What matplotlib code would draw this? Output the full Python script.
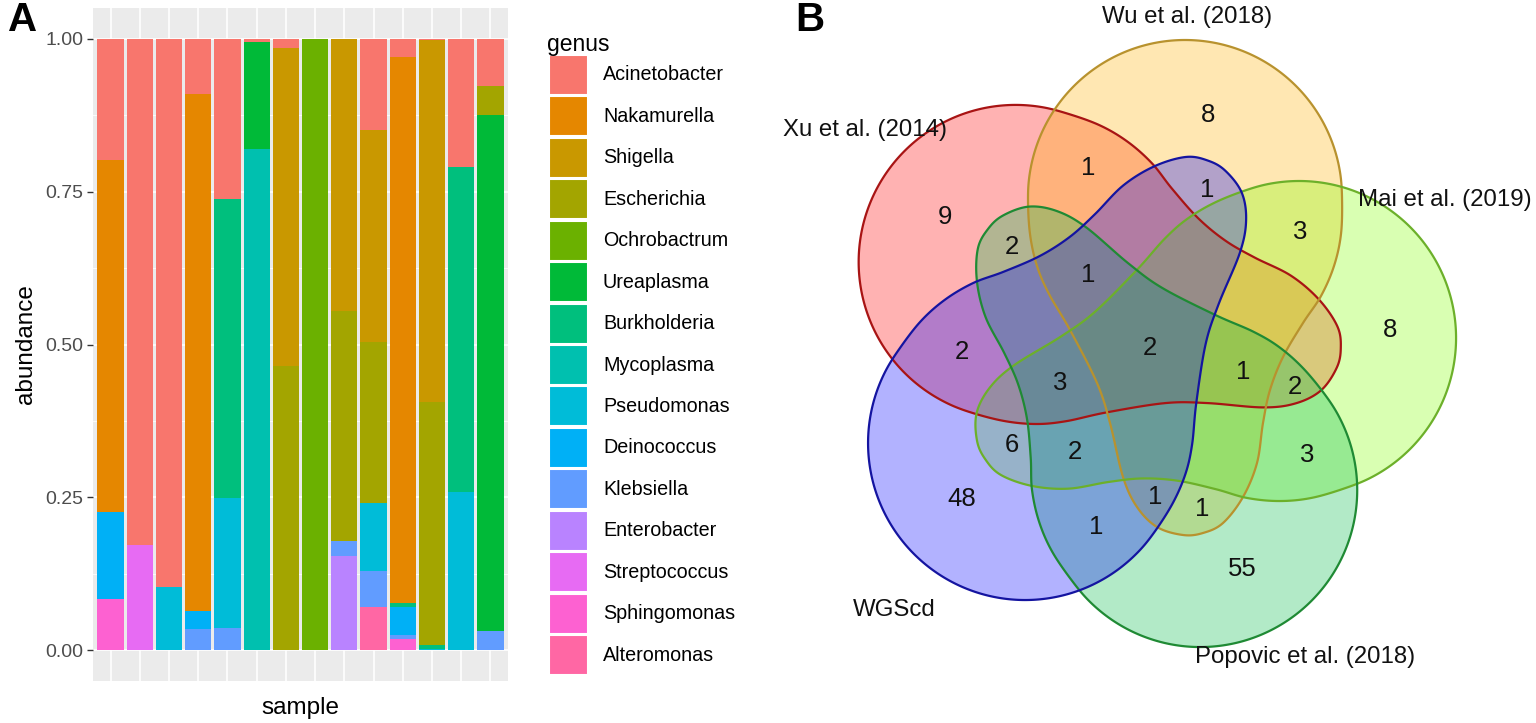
import numpy as np
import matplotlib
matplotlib.use("Agg")
from matplotlib import pyplot as plt
from matplotlib.patches import Polygon, Rectangle

plt.rcParams['font.family'] = ['Liberation Sans', 'DejaVu Sans']

W, H = 1536, 723

# ---------------- panel A data ----------------
genera = ['Acinetobacter', 'Nakamurella', 'Shigella', 'Escherichia', 'Ochrobactrum',
          'Ureaplasma', 'Burkholderia', 'Mycoplasma', 'Pseudomonas', 'Deinococcus',
          'Klebsiella', 'Enterobacter', 'Streptococcus', 'Sphingomonas', 'Alteromonas']
genus_colors = ['#F8766D', '#E58700', '#C99800', '#A3A500', '#6BB100', '#00BA38', '#00BF7D',
                '#00C0AF', '#00BCD8', '#00B0F6', '#619CFF', '#B983FF', '#E76BF3', '#FD61D1',
                '#FF67A4']
samples = np.arange(1, 15)

acinetobacter = [0.199, 0.827, 0.896, 0.091, 0.263, 0.005, 0.016, 0, 0, 0.149, 0.030, 0.003, 0.210, 0.078]
nakamurella   = [0.575, 0, 0, 0.844, 0, 0, 0, 0, 0, 0, 0.892, 0, 0, 0]
shigella      = [0, 0, 0, 0, 0, 0, 0.519, 0, 0.445, 0.347, 0, 0.591, 0, 0]
escherichia   = [0, 0, 0, 0, 0, 0, 0.465, 0, 0.376, 0.263, 0, 0.397, 0, 0.047]
ochrobactrum  = [0, 0, 0, 0, 0, 0, 0, 1.0, 0, 0, 0, 0, 0, 0]
ureaplasma    = [0, 0, 0, 0, 0, 0.175, 0, 0, 0, 0, 0, 0, 0, 0.843]
burkholderia  = [0, 0, 0, 0, 0.488, 0, 0, 0, 0, 0, 0.007, 0.006, 0.531, 0]
mycoplasma    = [0, 0, 0, 0, 0, 0.820, 0, 0, 0, 0, 0, 0, 0, 0]
pseudomonas   = [0, 0, 0.104, 0, 0.212, 0, 0, 0, 0, 0.112, 0, 0.003, 0.259, 0]
deinococcus   = [0.142, 0, 0, 0.030, 0, 0, 0, 0, 0, 0, 0.045, 0, 0, 0]
klebsiella    = [0, 0, 0, 0.035, 0.037, 0, 0, 0, 0.024, 0.058, 0.008, 0, 0, 0.032]
enterobacter  = [0, 0, 0, 0, 0, 0, 0, 0, 0.155, 0, 0, 0, 0, 0]
streptococcus = [0, 0.173, 0, 0, 0, 0, 0, 0, 0, 0, 0, 0, 0, 0]
sphingomonas  = [0.084, 0, 0, 0, 0, 0, 0, 0, 0, 0, 0.018, 0, 0, 0]
alteromonas   = [0, 0, 0, 0, 0, 0, 0, 0, 0, 0.071, 0, 0, 0, 0]

abundance = [acinetobacter, nakamurella, shigella, escherichia, ochrobactrum, ureaplasma,
             burkholderia, mycoplasma, pseudomonas, deinococcus, klebsiella, enterobacter,
             streptococcus, sphingomonas, alteromonas]

# ---------------- panel B data ----------------
set_names = ['Wu et al. (2018)', 'Mai et al. (2019)', 'Popovic et al. (2018)', 'WGScd', 'Xu et al. (2014)']
region_counts = [8, 9, 1, 1, 3, 8, 2, 1, 2, 2, 3, 1, 2, 6, 2, 3, 48, 1, 1, 1, 55]

# layout (pixel positions in the picture)
count_pos = [(1208, 115), (945, 217), (1088, 168), (1207, 190), (1300, 232), (1390, 330),
             (1012, 247), (1088, 275), (962, 352), (1150, 348), (1060, 383), (1243, 372),
             (1295, 387), (1012, 445), (1075, 452), (1307, 455), (962, 499), (1155, 497),
             (1202, 509), (1096, 527), (1242, 569)]
label_pos = [(1187, 17, 'center'), (1358, 200, 'left'), (1195, 657, 'left'),
             (853, 610, 'left'), (783, 130, 'left')]
set_fill = ['#FFB200', '#84FF00', '#00BC48', '#0000FF', '#FF0000']
set_edge = ['#B8922E', '#6CB02A', '#1F8A34', '#1414A0', '#A81414']
set_rot = [0, 72, 144, 216, 288]
center = np.array([1145.0, 346.0])

# one petal (relative to the centre, image coords): round lobe + bent tail,
# the other four sets are rotations of it
lobe_c = np.array([40.0, -149.0])
lobe_r = 157.0
tail = np.array([(-115, -112), (-108, -80), (-96, -52), (-75, -16), (-48, 37), (-35, 77),
                 (-22, 131), (-8, 161), (12, 181), (38, 189), (58, 187), (78, 177),
                 (98, 151), (112, 117), (118, 77), (125, 44), (138, 11), (158, -23),
                 (176, -50), (189, -80), (196, -112)], float)


def smooth_closed(pts, n=12):
    out = []
    m = len(pts)
    t = np.linspace(0, 1, n, endpoint=False)[:, None]
    for i in range(m):
        p0, p1, p2, p3 = pts[i - 1], pts[i], pts[(i + 1) % m], pts[(i + 2) % m]
        out.append(0.5 * (2 * p1 + (-p0 + p2) * t + (2 * p0 - 5 * p1 + 4 * p2 - p3) * t ** 2
                          + (-p0 + 3 * p1 - 3 * p2 + p3) * t ** 3))
    return np.vstack(out)


def rotate(pts, deg):
    a = np.radians(deg)
    R = np.array([[np.cos(a), -np.sin(a)], [np.sin(a), np.cos(a)]])
    return pts @ R.T


phi = np.radians(np.arange(0, -181, -10))
arc = lobe_c + lobe_r * np.column_stack([np.cos(phi), np.sin(phi)])
shape = smooth_closed(np.vstack([arc, tail]))

fig = plt.figure(figsize=(W / 100, H / 100), dpi=100)

# ---------------- panel A ----------------
ax = fig.add_axes([93 / W, (H - 681) / H, 415 / W, 673 / H])
ax.set_facecolor('#EBEBEB')
bottom = np.zeros(len(samples))
for name, col, vals in list(zip(genera, genus_colors, abundance))[::-1]:
    vals = np.array(vals)
    ax.bar(samples, vals, bottom=bottom, width=0.9, color=col, linewidth=0, zorder=3)
    bottom += vals
ax.set_xlim(0.4, 14.6)
ax.set_ylim(-0.05, 1.05)
ax.set_yticks([0, 0.25, 0.5, 0.75, 1.0])
ax.set_yticklabels(['0.00', '0.25', '0.50', '0.75', '1.00'])
ax.set_yticks([0.125, 0.375, 0.625, 0.875], minor=True)
ax.set_xticks(samples)
ax.set_xticklabels([])
ax.tick_params(axis='x', length=0)
ax.tick_params(axis='y', which='major', length=4, width=1, color='#333333', labelsize=14,
               labelcolor='#4D4D4D', pad=3)
ax.tick_params(axis='y', which='minor', length=0)
ax.grid(True, which='major', color='white', lw=1.2, zorder=0)
ax.grid(True, which='minor', axis='y', color='white', lw=0.6, zorder=0)
for s in ax.spines.values():
    s.set_visible(False)
ax.set_xlabel('sample', fontsize=17.5, labelpad=8)
ax.set_ylabel('abundance', fontsize=17.5, labelpad=6)

# overlay in pixel coords for legend and panel letters
ov = fig.add_axes([0, 0, 1, 1], facecolor='none')
ov.set_xlim(0, W)
ov.set_ylim(H, 0)
ov.axis('off')
ov.text(8, 20, 'A', fontsize=29, fontweight='bold', va='center', ha='left')
ov.text(795, 20, 'B', fontsize=29, fontweight='bold', va='center', ha='left')
ov.text(547, 45, 'genus', fontsize=16.5, va='center', ha='left')
for i, (name, col) in enumerate(zip(genera, genus_colors)):
    yc = 75 + i * 41.43
    ov.add_patch(Rectangle((549, yc - 20), 39, 40, facecolor=col, edgecolor='white', lw=1.5))
    ov.text(603, yc, name, fontsize=14.2, va='center', ha='left')

# ---------------- panel B ----------------
vx = fig.add_axes([760 / W, 0, 776 / W, 1], facecolor='none')
vx.set_xlim(760, 1536)
vx.set_ylim(H, 0)
vx.axis('off')
outlines = [rotate(shape, r) + center for r in set_rot]
for k in [4, 0, 1, 2, 3]:
    vx.add_patch(Polygon(outlines[k], closed=True, facecolor=set_fill[k], alpha=0.3,
                         edgecolor='none'))
for k in [4, 0, 1, 2, 3]:
    vx.add_patch(Polygon(outlines[k], closed=True, facecolor='none', edgecolor=set_edge[k],
                         lw=1.6))
for (x, y), c in zip(count_pos, region_counts):
    vx.text(x, y, str(c), fontsize=18.5, ha='center', va='center', color='#111111')
for name, (x, y, ha) in zip(set_names, label_pos):
    vx.text(x, y, name, fontsize=17.3, ha=ha, va='center', color='#111111')

fig.savefig('out.png', dpi=100)
